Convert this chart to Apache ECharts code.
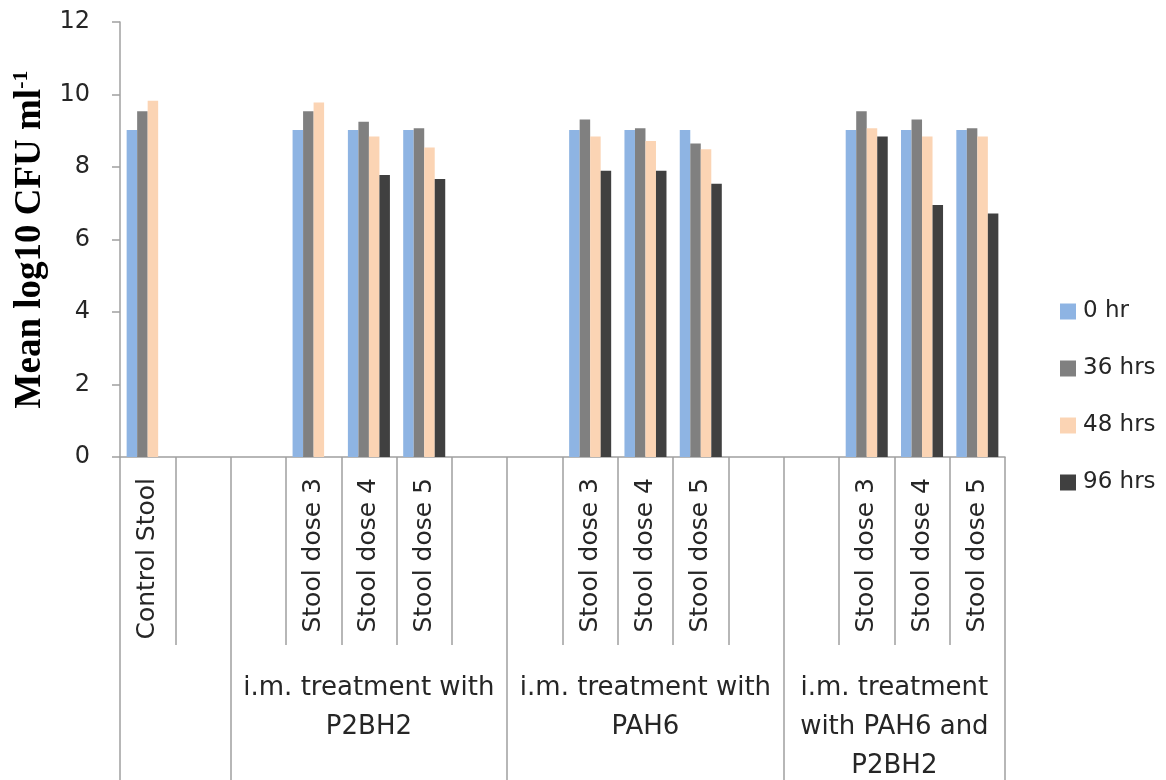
<!DOCTYPE html>
<html>
<head>
<meta charset="utf-8">
<script src="https://cdn.jsdelivr.net/npm/echarts@6/dist/echarts.min.js"></script>
<style>
  html, body { margin: 0; padding: 0; background: #fff; }
  #chart { width: 1166px; height: 780px; }
</style>
</head>
<body>
<div id="chart"></div>
<script>
// ---- data ----
const categories = ['Control Stool', '', '', 'Stool dose 3', 'Stool dose 4', 'Stool dose 5', '', '',
  'Stool dose 3', 'Stool dose 4', 'Stool dose 5', '', '', 'Stool dose 3', 'Stool dose 4', 'Stool dose 5'];
const seriesNames = ['0 hr', '36 hrs', '48 hrs', '96 hrs'];
const hr0  = [9.02, null, null, 9.02, 9.02, 9.02, null, null, 9.02, 9.02, 9.02, null, null, 9.02, 9.02, 9.02];
const hr36 = [9.54, null, null, 9.54, 9.25, 9.07, null, null, 9.31, 9.07, 8.65, null, null, 9.54, 9.31, 9.07];
const hr48 = [9.83, null, null, 9.78, 8.84, 8.54, null, null, 8.84, 8.72, 8.49, null, null, 9.07, 8.84, 8.84];
const hr96 = [null, null, null, null, 7.78, 7.67, null, null, 7.90, 7.90, 7.54, null, null, 8.84, 6.95, 6.72];
const groupBounds = [0, 2, 7, 12, 16];
const groupCenters = [4.5, 9.5, 14];
const groupLabels = ['i.m. treatment with\nP2BH2', 'i.m. treatment with\nPAH6', 'i.m. treatment\nwith PAH6 and\nP2BH2'];
const yTicks = { min: 0, max: 12, interval: 2 };

// ---- styles ----
const colors = ['#8EB4E3', '#808080', '#FBD4B4', '#404040'];
const axisGrey = '#A0A0A0';
const font = 'DejaVu Sans';

const chart = echarts.init(document.getElementById('chart'), null, { renderer: 'canvas' });
const values = [hr0, hr36, hr48, hr96];

const option = {
  animation: false,
  backgroundColor: '#ffffff',
  grid: { left: 120, right: 161, top: 22, bottom: 323, containLabel: false, outerBoundsMode: 'none' },
  legend: {
    orient: 'vertical',
    left: 1055,
    top: 295,
    itemWidth: 16,
    itemHeight: 16,
    itemGap: 34,
    icon: 'rect',
    data: seriesNames,
    textStyle: { fontFamily: font, fontSize: 23, color: '#262626', padding: [0, 0, 0, 2] }
  },
  xAxis: [
    {
      type: 'category',
      data: categories,
      position: 'bottom',
      axisLine: { show: true, lineStyle: { color: axisGrey, width: 1.5 } },
      axisTick: { show: true, interval: 0, length: 188, lineStyle: { color: axisGrey, width: 1.5 } },
      axisLabel: {
        interval: 0, rotate: 90, margin: 21,
        fontFamily: font, fontSize: 25, color: '#262626'
      },
      splitLine: { show: false }
    },
    {
      type: 'value',
      min: 0, max: 16,
      position: 'bottom',
      offset: 188,
      axisLine: { show: false },
      axisTick: { show: true, customValues: groupBounds, length: 140, lineStyle: { color: axisGrey, width: 1.5 } },
      axisLabel: {
        customValues: groupCenters,
        margin: 24,
        fontFamily: font, fontSize: 26, color: '#262626', lineHeight: 39,
        verticalAlign: 'top',
        formatter: function (v) {
          const i = groupCenters.indexOf(v);
          return i >= 0 ? groupLabels[i] : '';
        }
      },
      splitLine: { show: false }
    }
  ],
  yAxis: {
    type: 'value',
    min: yTicks.min, max: yTicks.max, interval: yTicks.interval,
    axisLine: { show: true, lineStyle: { color: axisGrey, width: 1.5 } },
    axisTick: { show: true, length: 8, lineStyle: { color: axisGrey, width: 1.5 } },
    axisLabel: { margin: 30, fontFamily: font, fontSize: 24, color: '#262626' },
    splitLine: { show: false },
    name: '{a|Mean log10 CFU ml}{s|-1}',
    nameLocation: 'middle',
    nameRotate: 90,
    nameGap: 70,
    nameMoveOverlap: false,
    nameTextStyle: {
      rich: {
        a: { fontFamily: 'Liberation Serif', fontWeight: 'bold', fontSize: 37, color: '#000', lineHeight: 40 },
        s: { fontFamily: 'Liberation Serif', fontWeight: 'bold', fontSize: 22, color: '#000', verticalAlign: 'top', lineHeight: 22 }
      }
    }
  },
  series: seriesNames.map((n, i) => ({
    name: n,
    type: 'bar',
    xAxisIndex: 0,
    data: values[i],
    barGap: '0%',
    barCategoryGap: '24%',
    itemStyle: { color: colors[i] }
  }))
};
chart.setOption(option);
</script>
</body>
</html>
